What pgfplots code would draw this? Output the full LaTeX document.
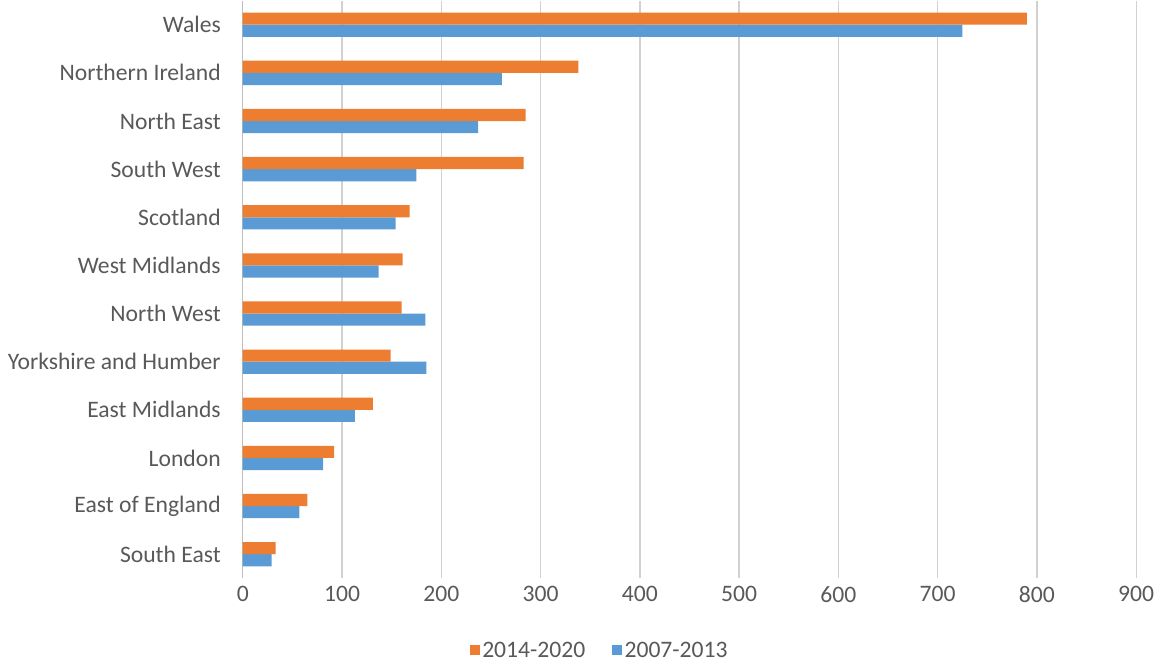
\documentclass[border=0pt]{standalone}
\usepackage{pgfplots}
\pgfplotsset{compat=1.18}
\usepackage{fontspec}
\setmainfont{Carlito}
\definecolor{obar}{HTML}{ED7D31}
\definecolor{bbar}{HTML}{5B9BD5}
\definecolor{tgray}{HTML}{595959}
\begin{document}
\fontsize{17.5}{21}\selectfont
\begin{tikzpicture}
\begin{axis}[
  scale only axis, width=662pt, height=428pt,
  xbar=0pt, bar width=9pt,
  xmin=0, xmax=900, xtick={0,100,...,900},
  ymin=-0.5, ymax=11.5,
  ytick={0,...,11},
  yticklabels={South East,East of England,London,East Midlands,Yorkshire and Humber,North West,West Midlands,Scotland,South West,North East,Northern Ireland,Wales},
  yticklabel style={xshift=-6pt},
  xmajorgrids, major grid style={draw=black!18, line width=1pt},
  axis line style={draw=none}, axis x line*=bottom, axis y line*=left,
  y axis line style={draw=black!25,line width=1pt},
  tick style={draw=none},
  ticklabel style={font=\fontsize{17.5}{21}\selectfont, text=tgray},
  /pgf/number format/assume math mode=true,
  legend style={at={(0.4,-0.1)}, anchor=north, draw=none, legend columns=2, font=\fontsize{17.5}{21}\selectfont, text=tgray, /tikz/every even column/.append style={column sep=18pt}},
  legend image code/.code={\fill[#1] (0cm,-0.1cm) rectangle (0.25cm,0.15cm);},
  reverse legend,
]
\addplot[fill=bbar, draw=none] coordinates {(29,0) (57,1) (81,2) (113,3) (185,4) (184,5) (137,6) (154,7) (175,8) (237,9) (261,10) (725,11)};
\addplot[fill=obar, draw=none] coordinates {(33,0) (65,1) (92,2) (131,3) (149,4) (160,5) (161,6) (168,7) (283,8) (285,9) (338,10) (790,11)};
\legend{2007-2013,2014-2020}
\end{axis}
\end{tikzpicture}
\end{document}
